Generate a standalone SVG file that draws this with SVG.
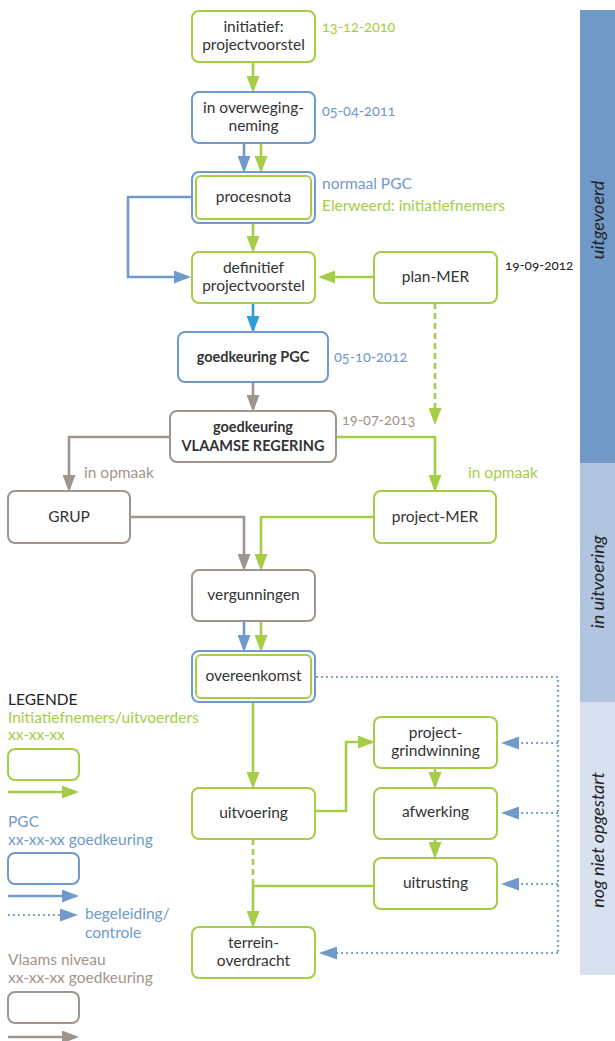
<svg xmlns="http://www.w3.org/2000/svg" width="615" height="1041" viewBox="0 0 615 1041">
<defs>
<style>
text{font-family:Lato,"Open Sans","Liberation Sans",sans-serif;font-size:15.5px;fill:#333;}
.c{text-anchor:middle;}
.b{font-weight:bold;font-size:14.5px;}
.tg{fill:#a5cd45;}
.tb{fill:#6f9acb;}
.tr{fill:#a0958e;}
.tk{fill:#222;}
.num{font-variant-numeric:oldstyle-nums;font-size:14.5px;}
.ng{fill:#fff;stroke:#a5cd45;stroke-width:2;}
.nb{fill:#fff;stroke:#6f9acb;stroke-width:2;}
.nr{fill:#fff;stroke:#a0958e;stroke-width:2;}
.lg{fill:none;stroke:#a5cd45;stroke-width:2.6;}
.lb{fill:none;stroke:#6f9acb;stroke-width:2.6;}
.lr{fill:none;stroke:#a0958e;stroke-width:2.6;}
.lc{fill:none;stroke:#2d9fd9;stroke-width:2.6;}
.dash{stroke-dasharray:6 4;}
.dot{fill:none;stroke:#6f9acb;stroke-width:2.2;stroke-dasharray:1.8 3.2;}
.side{font-size:18px;font-style:italic;fill:#222;text-anchor:middle;}
</style>
<marker id="ag" markerUnits="userSpaceOnUse" markerWidth="17" markerHeight="13" refX="14" refY="6.5" orient="auto"><path d="M0,0 L17,6.5 L0,13 z" fill="#a5cd45"/></marker>
<marker id="ab" markerUnits="userSpaceOnUse" markerWidth="17" markerHeight="13" refX="14" refY="6.5" orient="auto"><path d="M0,0 L17,6.5 L0,13 z" fill="#6f9acb"/></marker>
<marker id="ar" markerUnits="userSpaceOnUse" markerWidth="17" markerHeight="13" refX="14" refY="6.5" orient="auto"><path d="M0,0 L17,6.5 L0,13 z" fill="#a0958e"/></marker>
<marker id="ac" markerUnits="userSpaceOnUse" markerWidth="17" markerHeight="13" refX="14" refY="6.5" orient="auto"><path d="M0,0 L17,6.5 L0,13 z" fill="#2d9fd9"/></marker>
<marker id="ad" markerUnits="userSpaceOnUse" markerWidth="18" markerHeight="13" refX="16" refY="6.5" orient="auto"><path d="M0,0 L18,6.5 L0,13 z" fill="#6f9acb"/></marker>
</defs>

<g id="sidebar">
<rect x="580" y="10" width="35" height="453" fill="#7199c7"/>
<rect x="580" y="463" width="35" height="239" fill="#b1c5e1"/>
<rect x="580" y="702" width="35" height="273" fill="#d7e1f0"/>
<text class="side" transform="translate(604,220) rotate(-90)">uitgevoerd</text>
<text class="side" transform="translate(604,582) rotate(-90)">in uitvoering</text>
<text class="side" transform="translate(604,840) rotate(-90)">nog niet opgestart</text>
</g>

<g id="connectors">
<path class="lg" d="M253,62 V90" marker-end="url(#ag)"/>
<path class="lb" d="M244,143 V170" marker-end="url(#ab)"/>
<path class="lg" d="M261,143 V170" marker-end="url(#ag)"/>
<path class="lg" d="M253,223 V250" marker-end="url(#ag)"/>
<path class="lb" d="M192,197 H128 V277 H188" marker-end="url(#ab)"/>
<path class="lg" d="M374,277 H321" marker-end="url(#ag)"/>
<path class="lc" d="M253,303 V330" marker-end="url(#ac)"/>
<path class="lr" d="M253,382 V409" marker-end="url(#ar)"/>
<path class="lg dash" d="M435,303 V422" marker-end="url(#ag)"/>
<path class="lr" d="M170,437 H69 V489" marker-end="url(#ar)"/>
<path class="lg" d="M336,437 H435 V489" marker-end="url(#ag)"/>
<path class="lr" d="M130,517 H244 V568" marker-end="url(#ar)"/>
<path class="lg" d="M374,517 H261 V568" marker-end="url(#ag)"/>
<path class="lb" d="M244,621 V649" marker-end="url(#ab)"/>
<path class="lg" d="M261,621 V649" marker-end="url(#ag)"/>
<path class="lg" d="M253,702 V786" marker-end="url(#ag)"/>
<path class="lg" d="M315,811 H346 V742 H372" marker-end="url(#ag)"/>
<path class="lg" d="M435,768 V786" marker-end="url(#ag)"/>
<path class="lg" d="M435,839 V856" marker-end="url(#ag)"/>
<path class="lg dash" d="M253,839 V886"/>
<path class="lg" d="M374,886 H253 V925" marker-end="url(#ag)"/>
<path class="dot" d="M316,677 H558 V953"/>
<path class="dot" d="M558,743 H503" marker-end="url(#ad)"/>
<path class="dot" d="M558,813 H503" marker-end="url(#ad)"/>
<path class="dot" d="M558,884 H503" marker-end="url(#ad)"/>
<path class="dot" d="M558,953 H321" marker-end="url(#ad)"/>
</g>

<g id="n-initiatief">
<rect class="ng" x="192" y="11" width="123" height="51" rx="7"/>
<text class="c" x="253.5" y="32">initiatief:</text>
<text class="c" x="253.5" y="50">projectvoorstel</text>
<text class="tg num" x="322" y="32">13-12-2010</text>
</g>
<g id="n-overweging">
<rect class="nb" x="192" y="92" width="123" height="51" rx="7"/>
<text class="c" x="253.5" y="113">in overweging-</text>
<text class="c" x="253.5" y="131">neming</text>
<text class="tb num" x="322" y="116">05-04-2011</text>
</g>
<g id="n-procesnota">
<rect class="nb" x="192" y="172" width="123" height="51" rx="7"/>
<rect class="ng" x="196" y="176" width="115" height="43" rx="5"/>
<text class="c" x="253.5" y="202">procesnota</text>
<text class="tb" x="322" y="189">normaal PGC</text>
<text class="tg" x="322" y="211">Elerweerd: initiatiefnemers</text>
</g>
<g id="n-definitief">
<rect class="ng" x="192" y="252" width="123" height="51" rx="7"/>
<text class="c" x="253.5" y="273">definitief</text>
<text class="c" x="253.5" y="291">projectvoorstel</text>
</g>
<g id="n-planmer">
<rect class="ng" x="374" y="252" width="123" height="51" rx="7"/>
<text class="c" x="435.5" y="282">plan-MER</text>
<text class="tk num" x="505" y="270" style="font-size:13.5px">19-09-2012</text>
</g>
<g id="n-goedkeuring-pgc">
<rect class="nb" x="178" y="332" width="150" height="50" rx="7"/>
<text class="c b" x="253" y="362">goedkeuring PGC</text>
<text class="tb num" x="334" y="362">05-10-2012</text>
</g>
<g id="n-goedkeuring-vr">
<rect class="nr" x="170" y="411" width="166" height="51" rx="7"/>
<text class="c b" x="253" y="432">goedkeuring</text>
<text class="c b" x="253" y="451">VLAAMSE REGERING</text>
<text class="tr num" x="342" y="425">19-07-2013</text>
</g>
<g id="n-grup">
<rect class="nr" x="8" y="491" width="122" height="52" rx="7"/>
<text class="c" x="69" y="522">GRUP</text>
<text class="tr" x="84" y="478">in opmaak</text>
</g>
<g id="n-projectmer">
<rect class="ng" x="374" y="491" width="122" height="52" rx="7"/>
<text class="c" x="435" y="522">project-MER</text>
<text class="tg" x="468" y="478">in opmaak</text>
</g>
<g id="n-vergunningen">
<rect class="nr" x="192" y="570" width="123" height="51" rx="7"/>
<text class="c" x="253.5" y="600">vergunningen</text>
</g>
<g id="n-overeenkomst">
<rect class="nb" x="192" y="651" width="123" height="51" rx="7"/>
<rect class="ng" x="196" y="655" width="115" height="43" rx="5"/>
<text class="c" x="253.5" y="681">overeenkomst</text>
</g>
<g id="n-uitvoering">
<rect class="ng" x="192" y="788" width="123" height="51" rx="7"/>
<text class="c" x="253.5" y="818">uitvoering</text>
</g>
<g id="n-grindwinning">
<rect class="ng" x="374" y="717" width="123" height="51" rx="7"/>
<text class="c" x="435.5" y="738">project-</text>
<text class="c" x="435.5" y="756">grindwinning</text>
</g>
<g id="n-afwerking">
<rect class="ng" x="374" y="788" width="123" height="51" rx="7"/>
<text class="c" x="435.5" y="817">afwerking</text>
</g>
<g id="n-uitrusting">
<rect class="ng" x="374" y="858" width="123" height="51" rx="7"/>
<text class="c" x="435.5" y="888">uitrusting</text>
</g>
<g id="n-terrein">
<rect class="ng" x="192" y="927" width="123" height="51" rx="7"/>
<text class="c" x="253.5" y="948">terrein-</text>
<text class="c" x="253.5" y="966">overdracht</text>
</g>

<g id="legend">
<text class="tk" x="8" y="705">LEGENDE</text>
<text class="tg" x="8" y="723">Initiatiefnemers/uitvoerders</text>
<text class="tg" x="8" y="740">xx-xx-xx</text>
<rect class="ng" x="8" y="749" width="71" height="31" rx="7"/>
<path class="lg" d="M8,792 H76" marker-end="url(#ag)"/>
<text class="tb" x="8" y="827">PGC</text>
<text class="tb" x="8" y="845">xx-xx-xx goedkeuring</text>
<rect class="nb" x="8" y="853" width="71" height="31" rx="7"/>
<path class="lb" d="M8,896 H76" marker-end="url(#ab)"/>
<path class="dot" d="M8,915 H76" marker-end="url(#ad)"/>
<text class="tb" x="85" y="919">begeleiding/</text>
<text class="tb" x="85" y="938">controle</text>
<text class="tr" x="8" y="965">Vlaams niveau</text>
<text class="tr" x="8" y="983">xx-xx-xx goedkeuring</text>
<rect class="nr" x="8" y="992" width="71" height="31" rx="7"/>
<path class="lr" d="M8,1037 H76" marker-end="url(#ar)"/>
</g>
</svg>
